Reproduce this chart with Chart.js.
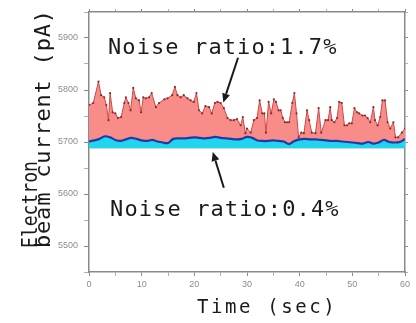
<!DOCTYPE html>
<html>
<head>
<meta charset="utf-8">
<script src="https://cdn.jsdelivr.net/npm/chart.js@4/dist/chart.umd.min.js"></script>
<style>
  html, body { margin: 0; padding: 0; background: #fff; }
  canvas { display: block; }
</style>
</head>
<body>
<canvas id="c" width="416" height="323"></canvas>
<script>
// ---- data ----
const redTime = [0.0,0.8,1.8,2.3,2.9,3.3,3.7,4.0,4.5,5.0,5.5,6.1,6.7,7.0,7.5,7.9,8.4,8.9,9.5,9.9,10.3,10.8,11.4,11.9,12.7,13.3,14.3,
  14.9,15.8,16.3,16.8,17.4,18.0,18.7,19.3,19.9,20.4,20.9,21.5,22.1,22.8,23.3,23.9,24.4,25.0,25.6,26.3,26.9,27.5,28.1,28.8,29.2,29.7,
  30.0,30.7,31.3,31.9,32.4,32.9,33.3,33.6,34.1,34.6,35.1,35.5,36.0,36.4,36.8,37.2,37.6,38.0,38.6,39.0,39.4,39.8,40.3,40.8,41.4,41.8,42.3,43.0,43.6,44.1,44.9,
  45.4,45.8,46.1,46.6,47.1,47.5,48.0,48.5,49.0,49.4,49.9,50.4,50.9,51.3,51.9,52.4,52.9,53.4,54.0,54.3,54.8,55.3,55.7,56.2,56.7,57.2,57.8,58.2,58.7,59.4,60.0];
const redCurrent = [5771,5775,5816,5790,5786,5771,5742,5794,5757,5755,5746,5748,5775,5786,5775,5761,5804,5784,5780,5757,5786,5784,5786,5794,5767,5775,5782,
  5784,5790,5806,5790,5786,5790,5784,5780,5777,5794,5761,5755,5769,5767,5755,5775,5777,5775,5765,5746,5742,5742,5744,5732,5748,5717,
  5726,5718,5742,5746,5780,5755,5755,5718,5777,5755,5782,5777,5761,5761,5746,5738,5738,5738,5775,5794,5755,5709,5718,5717,5761,5742,5718,5717,5765,5718,5742,
  5742,5767,5742,5738,5746,5777,5775,5732,5732,5736,5736,5765,5757,5755,5751,5751,5746,5738,5767,5742,5732,5748,5780,5780,5738,5726,5738,5709,5709,5718,5726];
const blueTime = [0,1,2,3,4,5,6,7,8,9,10,11,12,13,14,15,16,17,18,19,20,21,22,23,24,25,26,27,28,29,30,
  31,32,33,34,35,36,37,38,39,40,41,42,43,44,45,46,47,48,49,50,51,52,53,54,55,56,57,58,59,60];
const blueCurrent = [5701,5703,5706,5711,5709,5704,5702,5705,5708,5706,5703,5702,5704,5701,5699,5698,5706,5707,5707,5708,5709,
  5708,5707,5708,5710,5708,5707,5706,5705,5706,5710,5708,5703,5702,5702,5703,5702,5701,5696,5702,5705,
  5706,5705,5705,5704,5703,5702,5702,5701,5700,5699,5698,5697,5700,5697,5699,5704,5700,5699,5700,5706];
const fillBase = 5688;            // lower edge of the cyan band
const xMajor = [0,10,20,30,40,50,60];
const xMinor = [5,15,25,35,45,55];
const yMajor = [5500,5600,5700,5800,5900];
const yMinor = [5450,5550,5650,5750,5850,5950];
const xTitle = 'Time (sec)';
const yTitle = ['Electron', 'beam current (pA)'];
const noteTop = 'Noise ratio:1.7%';
const noteBottom = 'Noise ratio:0.4%';
// annotation anchors in data units: [time, current]
const noteTopAt = [3.6, 5869];
const noteBottomAt = [4.0, 5558];
const arrowTop = [[28.3, 5862], [25.5, 5776]];
const arrowBottom = [[25.6, 5612], [23.5, 5681]];

// ---- chart ----
const AX = '#8a8a8a';
function buildTicks(major, minor) {
  return (scale) => {
    scale.ticks = major.concat(minor).sort((a, b) => a - b).map(v => ({ value: v }));
  };
}
function tickColor(major) {
  return (c) => (c.tick && major.includes(c.tick.value)) ? AX : '#b0b0b0';
}
const tickFont = { family: '"Liberation Sans", Arial, sans-serif', size: 9 };

const textPlugin = {
  id: 'texts',
  afterDraw(chart) {
    const { ctx, scales: { x, y } } = chart;
    const px = (p) => [x.getPixelForValue(p[0]), y.getPixelForValue(p[1])];
    ctx.save();
    ctx.fillStyle = '#1a1a1a';
    ctx.textBaseline = 'alphabetic';
    ctx.textAlign = 'left';
    // notes
    ctx.font = '22px "DejaVu Sans Mono", monospace';
    ctx.letterSpacing = '1.1px';
    let p = px(noteTopAt); ctx.fillText(noteTop, p[0], p[1]);
    p = px(noteBottomAt); ctx.fillText(noteBottom, p[0], p[1]);
    // x title
    ctx.font = '19px "DejaVu Sans Mono", monospace';
    ctx.letterSpacing = '2.6px';
    ctx.fillText(xTitle, 197, 313);
    // y title (rotated)
    ctx.font = '22px "DejaVu Sans Mono", monospace';
    ctx.save();
    ctx.translate(37, 248); ctx.rotate(-Math.PI / 2);
    ctx.letterSpacing = '0px';
    ctx.fillText(yTitle[0], 0, 0, 87);
    ctx.restore();
    ctx.save();
    ctx.translate(50, 248); ctx.rotate(-Math.PI / 2);
    ctx.letterSpacing = '0.8px';
    ctx.fillText(yTitle[1], 0, 0);
    ctx.restore();
    ctx.letterSpacing = '0px';
    // arrows
    const arrow = (seg) => {
      const a = px(seg[0]), b = px(seg[1]);
      const ang = Math.atan2(b[1] - a[1], b[0] - a[0]);
      const hl = 9, hw = 4;
      const bx = b[0] - hl * Math.cos(ang), by = b[1] - hl * Math.sin(ang);
      ctx.strokeStyle = '#1a1a1a'; ctx.lineWidth = 2;
      ctx.beginPath(); ctx.moveTo(a[0], a[1]); ctx.lineTo(bx, by); ctx.stroke();
      ctx.beginPath();
      ctx.moveTo(b[0], b[1]);
      ctx.lineTo(bx + hw * Math.sin(ang), by - hw * Math.cos(ang));
      ctx.lineTo(bx - hw * Math.sin(ang), by + hw * Math.cos(ang));
      ctx.closePath(); ctx.fill();
    };
    arrow(arrowTop);
    arrow(arrowBottom);
    ctx.restore();
  }
};

new Chart(document.getElementById('c'), {
  type: 'line',
  data: {
    datasets: [
      {
        label: 'Noise ratio 0.4%',
        data: blueTime.map((t, i) => ({ x: t, y: blueCurrent[i] })),
        borderColor: '#2438a8',
        borderWidth: 2.2,
        backgroundColor: '#1fd6ee',
        fill: { value: fillBase },
        pointRadius: 0,
        tension: 0.35
      },
      {
        label: 'Noise ratio 1.7%',
        data: redTime.map((t, i) => ({ x: t, y: redCurrent[i] })),
        borderColor: '#c94a4a',
        borderWidth: 1,
        backgroundColor: '#f78c88',
        fill: { value: fillBase },
        pointRadius: 1.1,
        pointBorderWidth: 0,
        pointBackgroundColor: '#8e2a2a',
        tension: 0
      }
    ]
  },
  options: {
    responsive: false,
    animation: false,
    devicePixelRatio: 1,
    layout: { padding: 0 },
    plugins: { legend: { display: false }, tooltip: { enabled: false } },
    scales: {
      x: {
        type: 'linear', position: 'bottom', min: 0, max: 60,
        afterBuildTicks: buildTicks(xMajor, xMinor),
        afterFit: (s) => { s.height = 51; },
        grid: { drawOnChartArea: false, drawTicks: true, tickLength: 4, color: tickColor(xMajor) },
        border: { display: true, color: AX, width: 1.5 },
        ticks: {
          autoSkip: false, maxRotation: 0, padding: 3, color: '#8c8c8c', font: tickFont,
          callback: (v) => xMajor.includes(v) ? String(v) : ''
        }
      },
      x2: {
        type: 'linear', position: 'top', min: 0, max: 60,
        afterBuildTicks: buildTicks(xMajor, xMinor),
        afterFit: (s) => { s.height = 12; },
        grid: { drawOnChartArea: false, drawTicks: true, tickLength: 3, color: tickColor(xMajor) },
        border: { display: true, color: AX, width: 1.5 },
        ticks: { display: false }
      },
      y: {
        type: 'linear', position: 'left', min: 5450, max: 5950,
        afterBuildTicks: buildTicks(yMajor, yMinor),
        afterFit: (s) => { s.width = 89; },
        grid: { drawOnChartArea: false, drawTicks: true, tickLength: 5, color: tickColor(yMajor) },
        border: { display: true, color: AX, width: 1.5 },
        ticks: {
          autoSkip: false, padding: 6, color: '#8c8c8c', font: tickFont,
          callback: (v) => yMajor.includes(v) ? String(v) : ''
        }
      },
      y2: {
        type: 'linear', position: 'right', min: 5450, max: 5950,
        afterBuildTicks: buildTicks(yMajor, yMinor),
        afterFit: (s) => { s.width = 11; },
        grid: { drawOnChartArea: false, drawTicks: true, tickLength: 3, color: tickColor(yMajor) },
        border: { display: true, color: AX, width: 1.5 },
        ticks: { display: false }
      }
    }
  },
  plugins: [textPlugin]
});
</script>
</body>
</html>
